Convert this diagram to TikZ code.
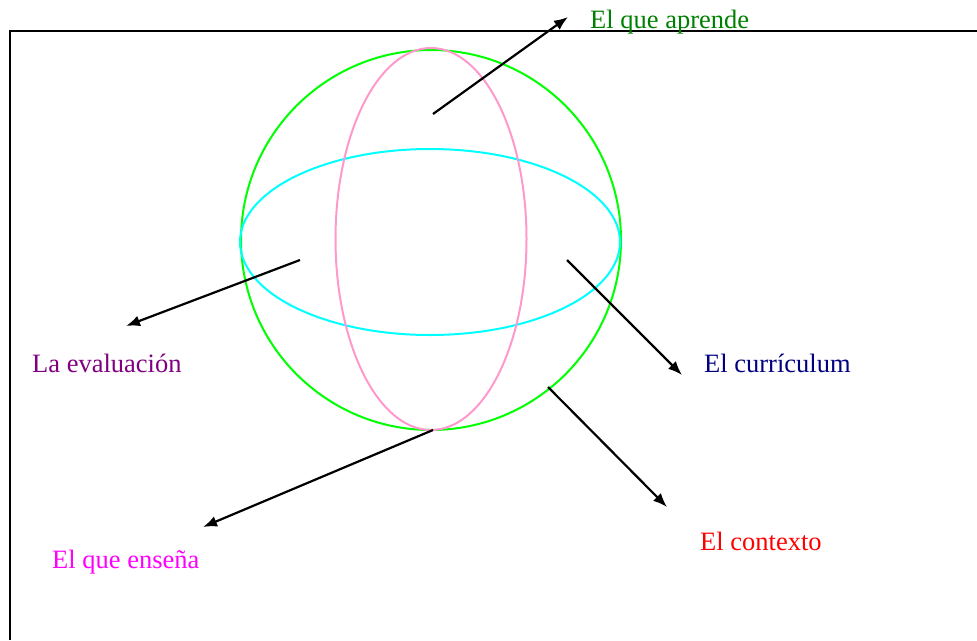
\documentclass[tikz,border=0pt]{standalone}
\usepackage{fontspec}
\setmainfont{Liberation Serif}
\usetikzlibrary{arrows.meta}
\definecolor{cgreen}{RGB}{0,255,0}
\definecolor{ccyan}{RGB}{0,255,255}
\definecolor{cpink}{RGB}{255,153,204}
\definecolor{tgreen}{RGB}{0,128,0}
\definecolor{tpurple}{RGB}{128,0,128}
\definecolor{tnavy}{RGB}{0,0,128}
\definecolor{tmagenta}{RGB}{255,0,255}
\definecolor{tred}{RGB}{255,0,0}
\tikzset{
  lbl/.style={anchor=base west, inner sep=0pt, font=\fontsize{26.5}{31}\selectfont},
  arr/.style={line width=2.2pt, -{Latex[length=14pt,width=11pt]}},
  ring/.style={line width=2pt}
}
\begin{document}
\begin{tikzpicture}[x=1pt,y=-1pt]
\useasboundingbox (0,0) rectangle (977,640);
\draw[line width=2.5pt] (10,640) -- (10,31) -- (977,31);
% sphere
\draw[ring, cgreen] (431,240) ellipse [x radius=190, y radius=190];
\draw[ring, ccyan] (430,242) ellipse [x radius=190, y radius=93];
\draw[ring, cpink] (431,239) ellipse [x radius=95.5, y radius=191];
% labels
\node[lbl, text=tgreen] (aprende) at (590,28) {El que aprende};
\node[lbl, text=tpurple] (eval) at (32,372) {La evaluación};
\node[lbl, text=tnavy] (curr) at (704,372) {El currículum};
\node[lbl, text=tmagenta] (ensena) at (52,568) {El que enseña};
\node[lbl, text=tred] (cont) at (700,550) {El contexto};
% arrow points
\coordinate (s1) at (433,114); \coordinate (e1) at (568,17);
\coordinate (s2) at (300,260); \coordinate (e2) at (126,326);
\coordinate (s3) at (567,260); \coordinate (e3) at (682,375);
\coordinate (s4) at (433,430); \coordinate (e4) at (203,527);
\coordinate (s5) at (548,387); \coordinate (e5) at (667,507);
\draw[arr] (s1) -- (e1);
\draw[arr] (s2) -- (e2);
\draw[arr] (s3) -- (e3);
\draw[arr] (s4) -- (e4);
\draw[arr] (s5) -- (e5);
\end{tikzpicture}
\end{document}
